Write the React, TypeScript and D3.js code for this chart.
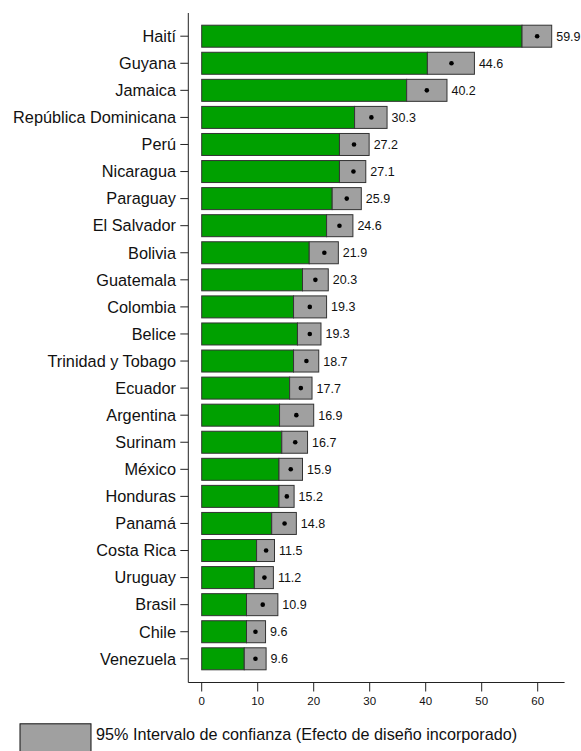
import React from "react";
import * as d3 from "d3";

const countries = [
  "Haití", "Guyana", "Jamaica", "República Dominicana", "Perú", "Nicaragua",
  "Paraguay", "El Salvador", "Bolivia", "Guatemala", "Colombia", "Belice",
  "Trinidad y Tobago", "Ecuador", "Argentina", "Surinam", "México", "Honduras",
  "Panamá", "Costa Rica", "Uruguay", "Brasil", "Chile", "Venezuela",
];
const estimates = [
  59.9, 44.6, 40.2, 30.3, 27.2, 27.1, 25.9, 24.6, 21.9, 20.3, 19.3, 19.3,
  18.7, 17.7, 16.9, 16.7, 15.9, 15.2, 14.8, 11.5, 11.2, 10.9, 9.6, 9.6,
];
const lowers = [
  57.2, 40.3, 36.6, 27.3, 24.6, 24.6, 23.3, 22.3, 19.2, 18.0, 16.4, 17.1,
  16.4, 15.7, 13.9, 14.3, 13.8, 13.8, 12.5, 9.8, 9.4, 8.0, 8.0, 7.6,
];
const uppers = [
  62.5, 48.7, 43.8, 33.1, 29.9, 29.3, 28.5, 27.0, 24.4, 22.6, 22.3, 21.3,
  20.9, 19.7, 20.0, 18.9, 18.0, 16.5, 16.9, 13.0, 12.8, 13.6, 11.4, 11.5,
];
const xTicks = [0, 10, 20, 30, 40, 50, 60];
const legendLabel = "95% Intervalo de confianza (Efecto de diseño incorporado)";

const W = 581;
const H = 751;
const FONT = "'Liberation Sans', Arial, Helvetica, sans-serif";
const GREEN = "#00a000";
const GRAY = "#a0a0a0";
const EDGE = "#333333";

export default function App() {
  const x = d3.scaleLinear().domain([0, 60]).range([201.7, 537.7]);
  const y = d3.scalePoint<string>().domain(countries).range([36.2, 658.8]);
  const barH = 22;
  const axisY = 682.5;
  const axisLeft = 188.3;
  const axisTop = 13;
  const axisRight = x(64.8);

  return (
    <svg
      width={W}
      height={H}
      style={{ position: "absolute", left: 0, top: 0, background: "#fff" }}
      fontFamily={FONT}
    >
      <rect x={0} y={0} width={W} height={H} fill="#fff" />
      {/* axes */}
      <line x1={axisLeft} x2={axisLeft} y1={axisTop} y2={axisY} stroke="#222" strokeWidth={1} />
      <line x1={axisLeft} x2={axisRight} y1={axisY} y2={axisY} stroke="#222" strokeWidth={1} />
      {xTicks.map((t) => (
        <g key={t}>
          <line x1={x(t)} x2={x(t)} y1={axisY} y2={axisY + 9} stroke="#222" strokeWidth={1} />
          <text x={x(t)} y={705} textAnchor="middle" fontSize={11.5} fill="#111">
            {t}
          </text>
        </g>
      ))}
      {countries.map((c, i) => {
        const cy = y(c) as number;
        const top = cy - barH / 2;
        return (
          <g key={c}>
            <line x1={axisLeft - 8} x2={axisLeft} y1={cy} y2={cy} stroke="#222" strokeWidth={1} />
            <text x={176} y={cy + 5.8} textAnchor="end" fontSize={16.3} fill="#111">
              {c}
            </text>
            <rect
              x={x(0)}
              y={top}
              width={x(lowers[i]) - x(0)}
              height={barH}
              fill={GREEN}
              stroke={EDGE}
              strokeWidth={1}
            />
            <rect
              x={x(lowers[i])}
              y={top}
              width={x(uppers[i]) - x(lowers[i])}
              height={barH}
              fill={GRAY}
              stroke={EDGE}
              strokeWidth={1}
            />
            <circle cx={x(estimates[i])} cy={cy} r={2.3} fill="#000" />
            <text x={x(uppers[i]) + 4.5} y={cy + 4.5} fontSize={12.5} fill="#111">
              {estimates[i].toFixed(1)}
            </text>
          </g>
        );
      })}
      {/* legend */}
      <rect x={20} y={723.8} width={71} height={40} fill={GRAY} stroke="#111" strokeWidth={1} />
      <text x={96} y={740} fontSize={16.2} fill="#111">
        {legendLabel}
      </text>
    </svg>
  );
}
